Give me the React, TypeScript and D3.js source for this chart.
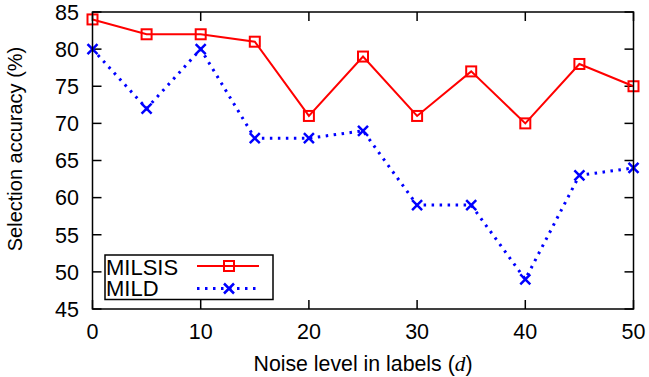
import React from "react";
import * as d3 from "d3";

const noise = [0, 5, 10, 15, 20, 25, 30, 35, 40, 45, 50];
const milsis = [84, 82, 82, 81, 71, 79, 71, 77, 70, 78, 75];
const mild = [80, 72, 80, 68, 68, 69, 59, 59, 49, 63, 64];
const xTicks = [0, 10, 20, 30, 40, 50];
const yTicks = [45, 50, 55, 60, 65, 70, 75, 80, 85];

const W = 649, H = 377;
const L = 92.5, R = 633.5, T = 12, B = 309;
const FONT = "'Liberation Sans', Arial, Helvetica, sans-serif";

export default function App() {
  const x = d3.scaleLinear().domain([0, 50]).range([L, R]);
  const y = d3.scaleLinear().domain([45, 85]).range([B, T]);
  const line = d3.line<number>().x((_, i) => x(noise[i])).y((v) => y(v));
  const tk = 9;
  const sq = 5;
  const xs = 5;

  return (
    <svg width={W} height={H} style={{ position: "absolute", left: 0, top: 0, background: "#fff" }}>
      {/* ticks */}
      {xTicks.map((t) => (
        <g key={"x" + t}>
          <line x1={x(t)} x2={x(t)} y1={B} y2={B - tk} stroke="#000" strokeWidth={1.5} />
          <line x1={x(t)} x2={x(t)} y1={T} y2={T + tk} stroke="#000" strokeWidth={1.5} />
          <text x={x(t)} y={339} fontFamily={FONT} fontSize={21.5} textAnchor="middle" fill="#000">{t}</text>
        </g>
      ))}
      {yTicks.map((t) => (
        <g key={"y" + t}>
          <line x1={L} x2={L + tk} y1={y(t)} y2={y(t)} stroke="#000" strokeWidth={1.5} />
          <line x1={R} x2={R - tk} y1={y(t)} y2={y(t)} stroke="#000" strokeWidth={1.5} />
          <text x={79} y={y(t) + 7.8} fontFamily={FONT} fontSize={21.5} textAnchor="end" fill="#000">{t}</text>
        </g>
      ))}
      {/* series */}
      <path d={line(milsis) || ""} fill="none" stroke="#ff0000" strokeWidth={2} />
      <path d={line(mild) || ""} fill="none" stroke="#0000ff" strokeWidth={3} strokeDasharray="2.5,5.5" />
      {milsis.map((v, i) => (
        <rect key={"s" + i} x={x(noise[i]) - sq} y={y(v) - sq} width={sq * 2} height={sq * 2} fill="none" stroke="#ff0000" strokeWidth={2} />
      ))}
      {mild.map((v, i) => (
        <path key={"c" + i} d={`M${x(noise[i]) - xs},${y(v) - xs}L${x(noise[i]) + xs},${y(v) + xs}M${x(noise[i]) - xs},${y(v) + xs}L${x(noise[i]) + xs},${y(v) - xs}`} stroke="#0000ff" strokeWidth={2.5} fill="none" />
      ))}
      {/* legend */}
      <rect x={105} y={255} width={168} height={44.5} fill="#fff" stroke="#000" strokeWidth={1.5} />
      <text x={106} y={274.5} fontFamily={FONT} fontSize={22} fill="#000">MILSIS</text>
      <text x={106} y={295.5} fontFamily={FONT} fontSize={22} fill="#000">MILD</text>
      <line x1={197} x2={259} y1={266} y2={266} stroke="#ff0000" strokeWidth={2} />
      <rect x={229 - sq} y={266 - sq} width={sq * 2} height={sq * 2} fill="none" stroke="#ff0000" strokeWidth={2} />
      <line x1={197} x2={259} y1={288.5} y2={288.5} stroke="#0000ff" strokeWidth={3} strokeDasharray="2.5,5.5" />
      <path d={`M${229 - xs},${288.5 - xs}L${229 + xs},${288.5 + xs}M${229 - xs},${288.5 + xs}L${229 + xs},${288.5 - xs}`} stroke="#0000ff" strokeWidth={2.5} />
      {/* frame */}
      <rect x={L} y={T} width={R - L} height={B - T} fill="none" stroke="#000" strokeWidth={1.5} />
      {/* axis titles */}
      <text x={(L + R) / 2} y={371} fontFamily={FONT} fontSize={21.3} textAnchor="middle" fill="#000">
        Noise level in labels (<tspan fontFamily="'Liberation Serif', 'Times New Roman', serif" fontStyle="italic">d</tspan>)
      </text>
      <text transform={`translate(22,149) rotate(-90)`} fontFamily={FONT} fontSize={20} textAnchor="middle" fill="#000">
        Selection accuracy (%)
      </text>
    </svg>
  );
}
